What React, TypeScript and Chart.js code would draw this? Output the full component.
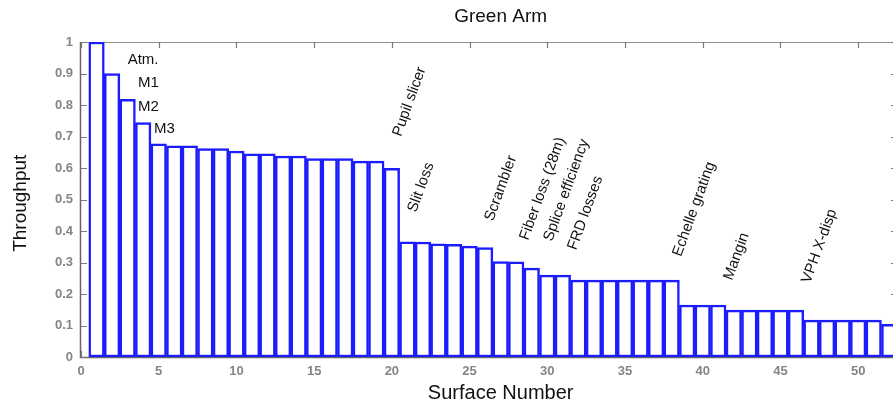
import React, { useEffect, useRef } from 'react';
import { Chart, registerables } from 'chart.js';

Chart.register(...registerables);

const surfaceNumbers = [
  1, 2, 3, 4, 5, 6, 7, 8, 9, 10, 11, 12, 13, 14, 15, 16, 17, 18, 19, 20,
  21, 22, 23, 24, 25, 26, 27, 28, 29, 30, 31, 32, 33, 34, 35, 36, 37, 38, 39, 40,
  41, 42, 43, 44, 45, 46, 47, 48, 49, 50, 51, 52,
];

const throughput = [
  1.0, 0.9, 0.818, 0.744, 0.677, 0.67, 0.67, 0.662, 0.662, 0.654,
  0.645, 0.645, 0.638, 0.638, 0.63, 0.63, 0.63, 0.622, 0.622, 0.599,
  0.366, 0.365, 0.359, 0.358, 0.352, 0.347, 0.303, 0.302, 0.282, 0.26,
  0.26, 0.244, 0.244, 0.244, 0.244, 0.244, 0.244, 0.244, 0.165, 0.165,
  0.165, 0.149, 0.149, 0.149, 0.149, 0.149, 0.117, 0.117, 0.117, 0.117,
  0.117, 0.104,
];

const xTickValues = [0, 5, 10, 15, 20, 25, 30, 35, 40, 45, 50];
const yTickValues = [0, 0.1, 0.2, 0.3, 0.4, 0.5, 0.6, 0.7, 0.8, 0.9, 1];

const chartTitle = 'Green Arm';
const xAxisTitle = 'Surface Number';
const yAxisTitle = 'Throughput';

const stageLabels = ['Atm.', 'M1', 'M2', 'M3'];
const stageLabelX = [3.0, 3.67, 3.67, 4.7];
const stageLabelY = [0.944, 0.87, 0.794, 0.724];

const lossLabels = [
  'Pupil slicer',
  'Slit loss',
  'Scrambler',
  'Fiber loss (28m)',
  'Splice efficiency',
  'FRD losses',
  'Echelle grating',
  'Mangin',
  'VPH X-disp',
];
const lossLabelX = [20.59, 21.56, 26.51, 28.76, 30.31, 31.85, 38.61, 41.89, 46.91];
const lossLabelY = [0.698, 0.457, 0.429, 0.368, 0.365, 0.337, 0.317, 0.241, 0.232];

const FONT = '"Liberation Sans", Arial, Helvetica, sans-serif';

const framePlugin = {
  id: 'matlabFrame',
  beforeDatasetsDraw(chart: any) {
    const { ctx, chartArea } = chart;
    const xs = chart.scales.x;
    const ys = chart.scales.y;
    const { left, right, top, bottom } = chartArea;
    ctx.save();
    ctx.strokeStyle = '#8e8e8e';
    ctx.lineWidth = 1;
    ctx.beginPath();
    ctx.moveTo(left - 0.5, top + 0.5);
    ctx.lineTo(right + 0.5, top + 0.5);
    ctx.moveTo(right + 0.5, top);
    ctx.lineTo(right + 0.5, bottom);
    ctx.stroke();
    ctx.strokeStyle = '#666';
    ctx.lineWidth = 1.5;
    ctx.beginPath();
    ctx.moveTo(left - 0.5, top);
    ctx.lineTo(left - 0.5, bottom + 0.5);
    ctx.lineTo(right, bottom + 0.5);
    ctx.stroke();
    ctx.strokeStyle = '#7a7a7a';
    ctx.lineWidth = 1.2;
    ctx.beginPath();
    xTickValues.forEach((v) => {
      const px = Math.round(xs.getPixelForValue(v)) + 0.5;
      ctx.moveTo(px, top);
      ctx.lineTo(px, top + 6);
      ctx.moveTo(px, bottom);
      ctx.lineTo(px, bottom - 6);
    });
    yTickValues.forEach((v) => {
      const py = Math.round(ys.getPixelForValue(v)) + 0.5;
      ctx.moveTo(left, py);
      ctx.lineTo(left + 6, py);
      ctx.moveTo(right, py);
      ctx.lineTo(right - 6, py);
    });
    ctx.stroke();
    ctx.restore();
  },
  afterDatasetsDraw(chart: any) {
    const { ctx, chartArea } = chart;
    const xs = chart.scales.x;
    const ys = chart.scales.y;
    ctx.save();
    ctx.fillStyle = '#111';
    ctx.textAlign = 'center';
    ctx.textBaseline = 'middle';
    ctx.font = `19px ${FONT}`;
    ctx.fillText(chartTitle, xs.getPixelForValue(27), 17);
    ctx.font = `20px ${FONT}`;
    ctx.fillText(xAxisTitle, xs.getPixelForValue(27), chartArea.bottom + 36);
    ctx.save();
    ctx.translate(21, ys.getPixelForValue(0.488));
    ctx.rotate(-Math.PI / 2);
    ctx.font = `19px ${FONT}`;
    ctx.fillText(yAxisTitle, 0, 0);
    ctx.restore();
    ctx.font = `15px ${FONT}`;
    ctx.textAlign = 'left';
    ctx.textBaseline = 'middle';
    stageLabels.forEach((t, i) => {
      ctx.fillText(t, xs.getPixelForValue(stageLabelX[i]), ys.getPixelForValue(stageLabelY[i]));
    });
    ctx.textBaseline = 'alphabetic';
    lossLabels.forEach((t, i) => {
      ctx.save();
      ctx.translate(xs.getPixelForValue(lossLabelX[i]), ys.getPixelForValue(lossLabelY[i]));
      ctx.rotate((-70 * Math.PI) / 180);
      ctx.fillText(t, 0, 0);
      ctx.restore();
    });
    ctx.restore();
  },
};

export default function App() {
  const canvasRef = useRef<HTMLCanvasElement | null>(null);

  useEffect(() => {
    document.body.style.margin = '0';
    const canvas = canvasRef.current;
    if (!canvas) return;
    const chart = new Chart(canvas, {
      type: 'bar',
      data: {
        datasets: [
          {
            label: 'Throughput',
            data: surfaceNumbers.map((x, i) => ({ x, y: throughput[i] })),
            backgroundColor: '#ffffff',
            borderColor: '#1c1cff',
            borderWidth: 2.5,
            borderSkipped: false,
            barPercentage: 1,
            categoryPercentage: 1,
          } as any,
        ],
      },
      options: {
        responsive: false,
        animation: false,
        devicePixelRatio: 1,
        layout: { padding: { top: 42, right: 13, left: 0, bottom: 0 } },
        plugins: {
          legend: { display: false },
          title: { display: false },
          tooltip: { enabled: false },
        },
        scales: {
          x: {
            type: 'linear',
            offset: false,
            min: 0,
            max: 52.5,
            grid: { display: false, drawTicks: false, offset: false },
            border: { display: false },
            afterBuildTicks: (s: any) => {
              s.ticks = xTickValues.map((v) => ({ value: v }));
            },
            afterFit: (s: any) => {
              s.height = 48;
            },
            ticks: {
              autoSkip: false,
              maxRotation: 0,
              padding: 7,
              color: '#858585',
              font: { family: FONT, size: 13, weight: 'bold' },
              callback: (v: any) => String(v),
            },
          },
          y: {
            type: 'linear',
            min: 0,
            max: 1,
            grid: { display: false, drawTicks: false },
            border: { display: false },
            afterBuildTicks: (s: any) => {
              s.ticks = yTickValues.map((v) => ({ value: v }));
            },
            afterFit: (s: any) => {
              s.width = 81;
            },
            ticks: {
              autoSkip: false,
              padding: 8,
              color: '#858585',
              font: { family: FONT, size: 13, weight: 'bold' },
              callback: (v: any) => String(Math.round(Number(v) * 10) / 10),
            },
          },
        },
      } as any,
      plugins: [framePlugin],
    });
    return () => chart.destroy();
  }, []);

  return (
    <div style={{ width: 893, height: 405, overflow: 'hidden', position: 'relative', background: '#fff' }}>
      <canvas ref={canvasRef} width={910} height={405} style={{ display: 'block' }} />
    </div>
  );
}
